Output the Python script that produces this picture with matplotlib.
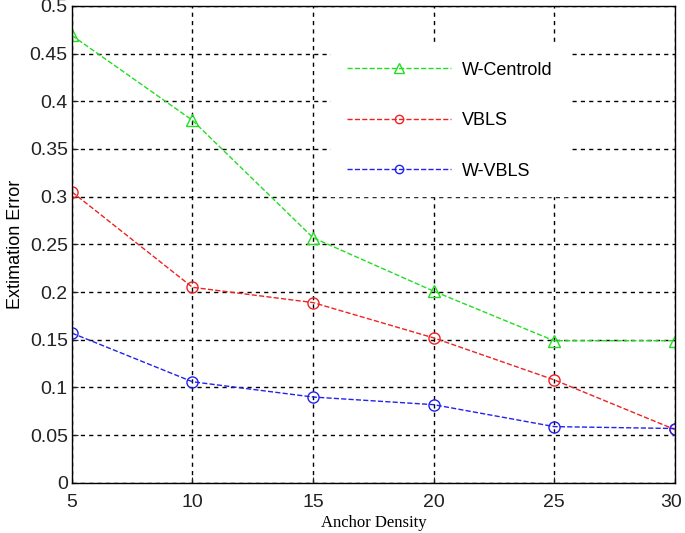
import matplotlib
matplotlib.use("Agg")
import matplotlib.pyplot as plt
from matplotlib.transforms import ScaledTranslation

# anchor density vs. estimation error
density = [5, 10, 15, 20, 25, 30]
w_centroid = [0.469, 0.380, 0.257, 0.201, 0.149, 0.149]
vbls = [0.305, 0.205, 0.189, 0.152, 0.108, 0.056]
w_vbls = [0.157, 0.106, 0.090, 0.082, 0.059, 0.057]

yticks = [0, 0.05, 0.1, 0.15, 0.2, 0.25, 0.3, 0.35, 0.4, 0.45, 0.5]
yticklabels = ["0", "0.05", "0.1", "0.15", "0.2", "0.25", "0.3", "0.35", "0.4", "0.45", "0.5"]

plt.rcParams['font.family'] = ['Liberation Sans', 'DejaVu Sans']

fig = plt.figure(figsize=(6.85, 5.33), dpi=100)
ax = fig.add_axes([0.105, 0.094, 0.880, 0.895])

ax.plot(density, w_centroid, '--', color='#22dd22', marker='^', markersize=9,
        markerfacecolor='none', markeredgewidth=1.0, linewidth=1.0, label='W-Centrold')
ax.plot(density, vbls, '--', color='#ee2222', marker='o', markersize=8,
        markerfacecolor='none', markeredgewidth=1.0, linewidth=1.0, label='VBLS')
ax.plot(density, w_vbls, '--', color='#2222ee', marker='o', markersize=8,
        markerfacecolor='none', markeredgewidth=1.0, linewidth=1.0, label='W-VBLS')

ax.set_xlim(5, 30)
ax.set_ylim(0, 0.5)
ax.set_xticks(density)
ax.set_yticks(yticks)
ax.set_yticklabels(yticklabels)
ax.tick_params(direction='in', labelsize=14, length=4, colors='#222222')
ax.tick_params(axis='x', pad=8)
ax.tick_params(axis='y', pad=3)
ax.grid(True, color='black', linestyle=(0, (3, 3)), linewidth=1.0)
for s in ax.spines.values():
    s.set_linewidth(1.0)

# keep the last x label inside the figure
last = ax.get_xticklabels()[-1]
last.set_transform(last.get_transform() + ScaledTranslation(-4 / 100, 0, fig.dpi_scale_trans))

ax.set_xlabel('Anchor Density', family='Liberation Serif', fontsize=12, labelpad=3)
ax.set_ylabel('Extimation Error', fontsize=13, labelpad=4)

leg = ax.legend(loc='upper left', bbox_to_anchor=(0.429, 0.917), borderaxespad=0,
                fontsize=13, markerscale=0.75,
                frameon=True, fancybox=False, edgecolor='white', framealpha=1,
                labelspacing=1.85, handlelength=5.8, handletextpad=0.55, borderpad=0.9)

fig.savefig('out.png', dpi=100)
